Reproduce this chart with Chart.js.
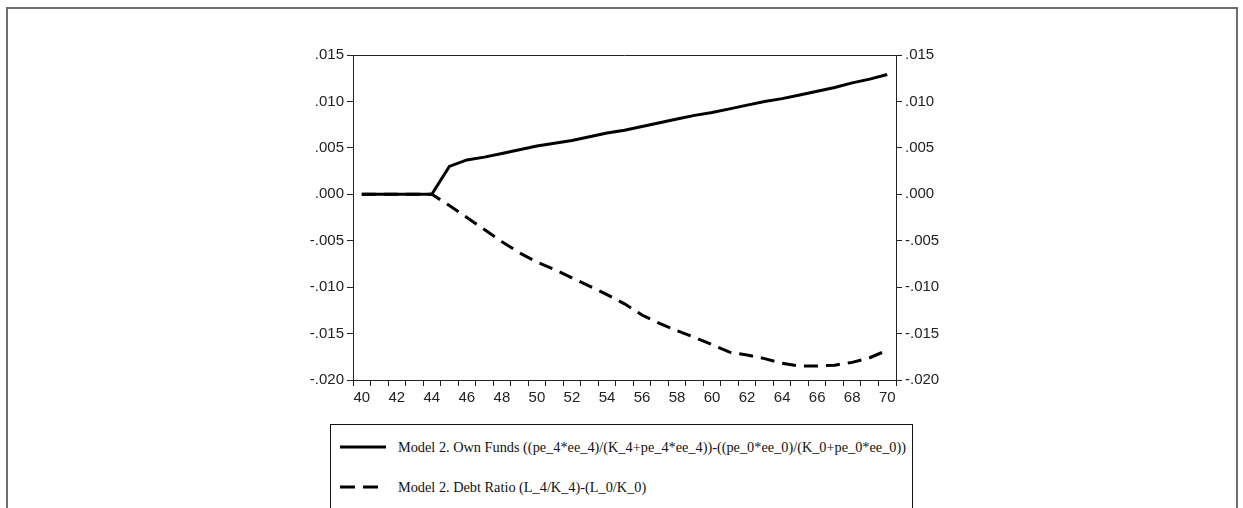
<!DOCTYPE html>
<html>
<head>
<meta charset="utf-8">
<script src="https://cdn.jsdelivr.net/npm/chart.js@4.4.1/dist/chart.umd.min.js"></script>
<style>
  html, body { margin: 0; padding: 0; background: #fff; }
  body { width: 1243px; height: 508px; position: relative; overflow: hidden; }
  #frame { position: absolute; left: 6px; top: 7px; width: 1232px; height: 520px; border: 2px solid #6e6e6e; box-sizing: border-box; }
  #wrap { position: absolute; left: 0; top: 0; width: 1243px; height: 508px; }
  #legend { position: absolute; left: 330px; top: 424px; width: 583px; height: 100px; border: 1px solid #111; box-sizing: border-box; background: #fff;
            font-family: "Liberation Serif", "DejaVu Serif", serif; font-size: 14.3px; color: #111; }
  .row { position: absolute; left: 0; height: 20px; display: flex; align-items: center; white-space: nowrap; }
  .row svg { margin-left: 9px; margin-right: 12px; }
</style>
</head>
<body>
<div id="frame"></div>
<div id="wrap"><canvas id="c" width="1243" height="508"></canvas></div>
<div id="legend">
  <div class="row" style="top:12px;"><svg width="46" height="6"><line x1="0" y1="3" x2="46" y2="3" stroke="#000" stroke-width="3"/></svg><span id="l1"></span></div>
  <div class="row" style="top:52px;"><svg width="46" height="6"><line x1="0" y1="3" x2="46" y2="3" stroke="#000" stroke-width="3" stroke-dasharray="15 8"/></svg><span id="l2"></span></div>
</div>
<script>
const years = ['40','41','42','43','44','45','46','47','48','49','50','51','52','53','54','55','56','57','58','59','60','61','62','63','64','65','66','67','68','69','70'];
const seriesNames = [
  'Model 2. Own Funds ((pe_4*ee_4)/(K_4+pe_4*ee_4))-((pe_0*ee_0)/(K_0+pe_0*ee_0))',
  'Model 2. Debt Ratio (L_4/K_4)-(L_0/K_0)'
];
const ownFunds = [0,0,0,0,0,0.0030,0.0037,0.0040,0.0044,0.0048,0.0052,0.0055,0.0058,0.0062,0.0066,0.0069,0.0073,0.0077,0.0081,0.0085,0.0088,0.0092,0.0096,0.0100,0.0103,0.0107,0.0111,0.0115,0.0120,0.0124,0.0129];
const debtRatio = [0,0,0,0,0,-0.0012,-0.0025,-0.0038,-0.0051,-0.0063,-0.0073,-0.0081,-0.0090,-0.0099,-0.0108,-0.0118,-0.0130,-0.0139,-0.0147,-0.0154,-0.0162,-0.0170,-0.0173,-0.0177,-0.0182,-0.0185,-0.0185,-0.0184,-0.0181,-0.0176,-0.0168];
const yMin = -0.020, yMax = 0.015, yStep = 0.005;

document.getElementById('l1').textContent = seriesNames[0];
document.getElementById('l2').textContent = seriesNames[1];

const fmt = v => { const s = Number(v).toFixed(3); return s.replace(/^(-?)0\./, '$1.'); };

const boxPlugin = {
  id: 'box',
  afterDatasetsDraw(chart) {
    const a = chart.chartArea, ctx = chart.ctx;
    ctx.save();
    ctx.strokeStyle = '#222';
    ctx.lineWidth = 1;
    ctx.beginPath();
    ctx.moveTo(a.left, a.top + 0.5);
    ctx.lineTo(a.right, a.top + 0.5);
    ctx.stroke();
    ctx.restore();
  }
};

const tickFont = { family: '"Liberation Sans", Arial, sans-serif', size: 15 };
const yAxisCommon = {
  min: yMin, max: yMax,
  ticks: { stepSize: yStep, callback: fmt, font: tickFont, color: '#222', padding: 3 },
  grid: { drawOnChartArea: false, drawTicks: true, tickLength: 6, color: '#222' },
  border: { display: true, color: '#222', width: 1 }
};

new Chart(document.getElementById('c'), {
  type: 'line',
  data: {
    labels: years,
    datasets: [
      { label: seriesNames[1], data: debtRatio, borderColor: '#000', borderWidth: 3, borderDash: [14, 8], pointRadius: 0, tension: 0, fill: false, yAxisID: 'y' },
      { label: seriesNames[0], data: ownFunds, borderColor: '#000', borderWidth: 3, pointRadius: 0, tension: 0, fill: false, yAxisID: 'y' }
    ]
  },
  options: {
    responsive: false,
    animation: false,
    events: [],
    layout: { padding: { top: 55, left: 0, right: 0, bottom: 0 } },
    plugins: { legend: { display: false }, tooltip: { enabled: false } },
    scales: {
      x: {
        type: 'category',
        offset: true,
        ticks: { autoSkip: false, maxRotation: 0, minRotation: 0, font: tickFont, color: '#222', padding: 3,
                 callback: function(v, i) { return i % 2 === 0 ? this.getLabelForValue(v) : ''; } },
        grid: { offset: true, drawOnChartArea: false, drawTicks: true, tickLength: 6, color: '#222' },
        border: { display: true, color: '#222', width: 1 },
        afterFit(s) { s.height = 128; }
      },
      y: Object.assign({}, yAxisCommon, { position: 'left', afterFit(s) { s.width = 353; } }),
      y2: Object.assign({}, yAxisCommon, { position: 'right', afterFit(s) { s.width = 347; } })
    }
  },
  plugins: [boxPlugin]
});
</script>
</body>
</html>
